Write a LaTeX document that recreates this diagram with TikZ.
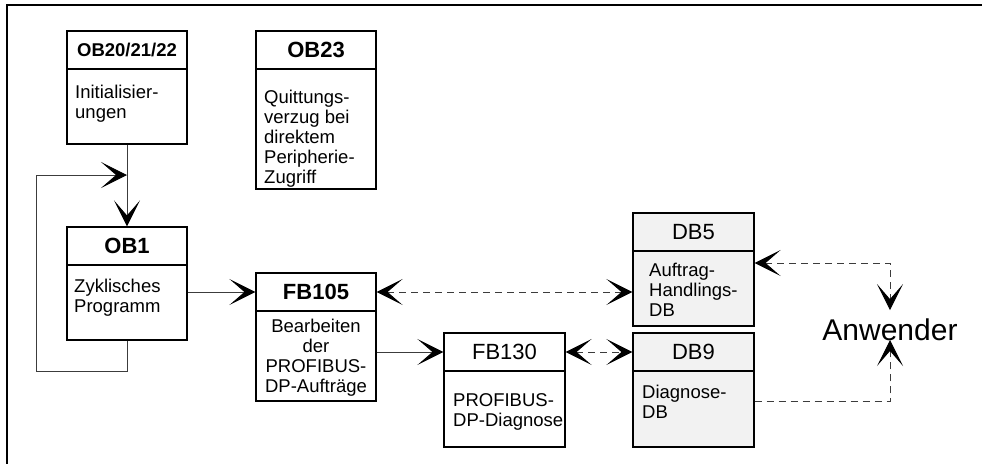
\documentclass[tikz,border=0pt]{standalone}
\usepackage{fontspec}
\setmainfont{Liberation Sans}
\usetikzlibrary{arrows.meta, positioning}
\definecolor{dbgray}{RGB}{242, 242, 242}
\definecolor{linegray}{RGB}{60, 60, 60}
\tikzset{barb/.tip={Stealth[length=26pt, width=26pt, inset=15pt, color=black]}}

\begin{document}
\begin{tikzpicture}[
    x=1pt, y=-1pt,
    block/.style={rectangle, draw=black, line width=1.2pt, inner sep=0pt, minimum width=120pt},
    dbblock/.style={block, fill=dbgray, minimum width=121pt},
    head/.style={block, minimum height=38pt, anchor=north, font=\fontsize{22}{24}\selectfont},
    body/.style={inner sep=0pt, anchor=north west, align=left, font=\fontsize{18.5}{20}\selectfont},
    flow/.style={line width=1pt, draw=linegray, -{barb}},
    dflow/.style={line width=1pt, draw=linegray, dash pattern=on 7pt off 5pt},
    frame/.style={line width=2.5pt, draw=black}
]
\useasboundingbox (0,0) rectangle (982,464);

% Frame
\draw [frame] (982,5) -- (7,5) -- (7,464);

% OB20/21/22
\node (ob20) [block, minimum height=113pt] at (127,87.5) {};
\node (ob20t) [head, font=\fontsize{18.5}{20}\selectfont\bfseries] at (ob20.north) {OB20/21/22};
\node (ob20b) [body] at (75,85) {Initialisier-\\ungen};

% OB23
\node (ob23) [block, minimum height=158pt] at (316,110) {};
\node (ob23t) [head, font=\fontsize{22}{24}\selectfont\bfseries] at (ob23.north) {OB23};
\node (ob23b) [body] at (264,90) {Quittungs-\\verzug bei\\direktem\\Peripherie-\\Zugriff};

% OB1
\node (ob1) [block, minimum height=113pt] at (127,283.5) {};
\node (ob1t) [head, font=\fontsize{22}{24}\selectfont\bfseries] at (ob1.north) {OB1};
\node (ob1b) [body] at (74,279) {Zyklisches\\Programm};

% FB105
\node (fb105) [block, minimum height=128pt] at (316,337) {};
\node (fb105t) [head, font=\fontsize{22}{24}\selectfont\bfseries] at (fb105.north) {FB105};
\node (fb105b) [body, anchor=north, align=center] at (316,319) {Bearbeiten\\der\\PROFIBUS-\\DP-Aufträge};

% FB130
\node (fb130) [block, minimum width=121pt, minimum height=114pt] at (504.5,390) {};
\node (fb130t) [head, minimum width=121pt] at (fb130.north) {FB130};
\node (fb130b) [body] at (453,393) {PROFIBUS-\\DP-Diagnose};

% DB5
\node (db5) [dbblock, minimum height=113pt] at (693.5,269.5) {};
\node (db5t) [head, dbblock] at (db5.north) {DB5};
\node (db5b) [body] at (649,263) {Auftrag-\\Handlings-\\DB};

% DB9
\node (db9) [dbblock, minimum height=114pt] at (693.5,390) {};
\node (db9t) [head, dbblock] at (db9.north) {DB9};
\node (db9b) [body] at (642,385) {Diagnose-\\DB};

% User
\node (anw) [font=\fontsize{30}{32}\selectfont, inner sep=8pt, anchor=base] at (890,340) {Anwender};

% Program flow
\coordinate (loopin) at (127,175);
\coordinate (loopleft) at (36,371);
\draw [flow] (ob20.south) -- (ob1.north);
\draw [flow] (ob1.south) |- (loopleft) |- (loopin);
\draw [flow] (ob1.east |- fb105t) -- (fb105t.west);
\draw [flow] (fb105.east |- fb130t) -- (fb130t.west);

% Data access
\draw [dflow, {barb}-{barb}] (fb105t.east) -- (db5.west |- fb105t);
\draw [dflow, {barb}-{barb}] (fb130t.east) -- (db9t.west);
\draw [dflow, {barb}-{barb}] (db5.east |- db5b.north) -| (anw.north);
\draw [dflow, -{barb}] (db9.east |- db9b) -| (anw.base);

\end{tikzpicture}
\end{document}
